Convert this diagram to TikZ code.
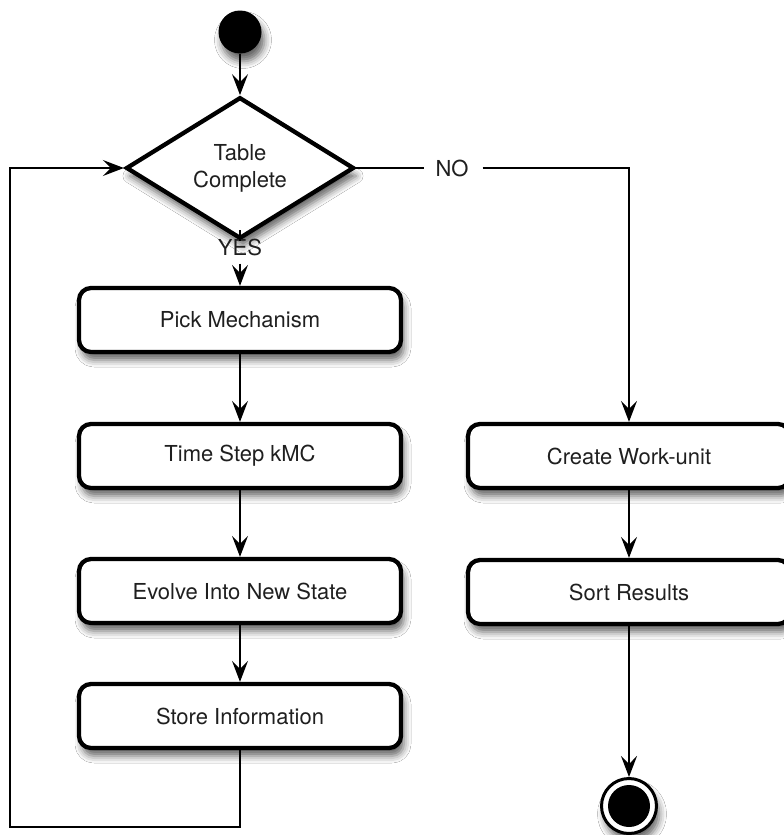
\documentclass[tikz,border=0pt]{standalone}
\usepackage{fontspec}
\setmainfont{TeX Gyre Heros}
\usetikzlibrary{shapes.geometric,arrows.meta,shadows.blur}
\begin{document}
\begin{tikzpicture}[x=1pt,y=-1pt,
  every node/.style={font=\fontsize{22}{27}\selectfont, text=black!88},
  softshadow/.style={blur shadow={shadow xshift=3pt, shadow yshift=-8pt,
      shadow blur radius=7pt, shadow opacity=60}},
  activity/.style={draw, line width=4.3pt, rounded corners=12pt, fill=white,
      minimum width=322pt, minimum height=64pt, softshadow},
  decision/.style={draw, diamond, line width=4.3pt, fill=white,
      minimum width=228pt, minimum height=100pt, inner sep=0pt,
      align=center, softshadow},
  link/.style={line width=1.7pt},
  flow/.style={link, -{Stealth[length=21pt,width=16pt,inset=8pt]}},
  guard/.style={inner sep=0pt, fill=none}
]
  \useasboundingbox (0,0) rectangle (784,835);
  \fill[white] (0,0) rectangle (784,835);

  % start and end states
  \node[circle, fill=black, minimum size=43pt, inner sep=0pt, softshadow] (start) at (240,32) {};
  \node[circle, draw=black, line width=3pt, fill=white, minimum size=55pt,
        inner sep=0pt, softshadow] (finish) at (629,806) {};
  \node[circle, fill=black, minimum size=42pt, inner sep=0pt] (finishdot) at (finish) {};

  % decision
  \node[decision] (table) at (240,168) {Table\\Complete};
  \node[guard] (yes) at (240,247) {YES};
  \node[guard] (no) at (452,168) {NO};

  % left column
  \node[activity] (pick)   at (240,320) {Pick Mechanism};
  \node[activity] (kmc)    at (240,456) {Time Step kMC};
  \node[activity] (evolve) at (240,591) {Evolve Into New State};
  \node[activity] (store)  at (240,716) {Store Information};

  % right column
  \node[activity] (work) at (629,456) {Create Work-unit};
  \node[activity] (sort) at (629,592) {Sort Results};

  \coordinate (loopcorner) at (10,827);

  % connectors
  \draw[flow] (start) -- (table.north);
  \draw[link] (table.south) -- ([yshift=8pt]yes.north);
  \draw[flow] ([yshift=-8pt]yes.south) -- (pick.north);
  \draw[flow] (pick) -- (kmc);
  \draw[flow] (kmc) -- (evolve);
  \draw[flow] (evolve) -- (store);
  \draw[flow] (store.south) |- (loopcorner) |- (table.west);

  \draw[link] (table.east) -- ([xshift=-11pt]no.west);
  \draw[flow] ([xshift=14pt]no.east) -| (work.north);
  \draw[flow] (work) -- (sort);
  \draw[flow] (sort) -- (finish.north);
\end{tikzpicture}
\end{document}
